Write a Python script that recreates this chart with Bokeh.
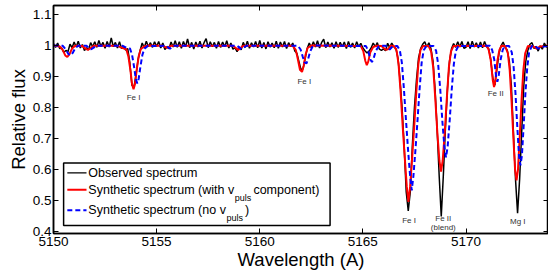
import numpy as np
from bokeh.plotting import figure
from bokeh.models import Range1d, LinearAxis, FixedTicker, CustomJSTickFormatter
from bokeh.core.properties import value
from bokeh.embed import file_html
from bokeh.resources import INLINE

# ---------------- data ----------------
# Observed spectrum: flux on a 0.1 A grid starting at 5150.0 A
obs_flux = [
    1.006, 0.994, 1.008, 0.990, 0.992, 0.978, 0.984, 0.980, 1.004, 0.993,   # 5150
    1.011, 0.995, 1.014, 0.992, 1.003, 0.984, 0.993, 0.986, 1.009, 0.996,   # 5151
    1.012, 0.994, 1.016, 0.997, 1.010, 0.991, 1.013, 0.995, 1.024, 0.996,   # 5152
    1.010, 0.992, 1.012, 0.990, 0.998, 0.985, 0.990, 0.945, 0.872, 0.866,   # 5153
    0.905, 0.955, 0.984, 1.008, 0.993, 1.014, 0.996, 1.009, 0.994, 1.012,   # 5154
    0.997, 1.013, 0.992, 1.008, 0.987, 0.996, 0.990, 1.011, 0.995, 1.015,   # 5155
    0.994, 1.012, 0.991, 1.013, 0.996, 1.021, 0.993, 1.010, 0.989, 1.011,   # 5156
    0.995, 1.014, 0.992, 1.009, 1.022, 0.993, 1.012, 0.996, 1.010, 0.991,   # 5157
    1.013, 0.994, 1.011, 0.996, 1.015, 0.992, 1.008, 0.988, 0.993, 0.980,   # 5158
    0.995, 0.986, 1.010, 0.994, 1.014, 0.991, 1.009, 0.995, 1.013, 0.993,   # 5159
    1.016, 0.992, 1.010, 0.989, 1.012, 0.995, 1.008, 0.993, 1.014, 0.991,   # 5160
    1.011, 0.995, 1.013, 0.990, 1.009, 0.996, 1.008, 0.982, 0.975, 0.948,   # 5161
    0.922, 0.925, 0.958, 0.990, 1.008, 0.993, 1.012, 0.995, 1.015, 0.992,   # 5162
    1.010, 1.020, 0.993, 1.011, 0.995, 1.009, 0.991, 1.012, 0.994, 1.010,   # 5163
    0.996, 1.011, 0.990, 1.013, 0.994, 1.008, 0.992, 1.012, 0.996, 1.007,   # 5164
    0.992, 0.983, 0.976, 0.982, 0.992, 1.008, 0.996, 1.009, 0.988, 0.984,   # 5165
    0.989, 0.983, 1.007, 0.993, 1.008, 0.996, 0.990, 0.960, 0.890, 0.800,   # 5166
    0.680, 0.530, 0.468, 0.530, 0.680, 0.800, 0.890, 0.960, 0.990, 1.004,   # 5167
    1.012, 0.995, 1.009, 0.990, 0.950, 0.860, 0.730, 0.580, 0.450, 0.580,   # 5168
    0.730, 0.860, 0.950, 0.990, 1.006, 0.994, 1.012, 0.995, 1.013, 0.991,   # 5169
    0.994, 1.012, 0.990, 1.014, 0.995, 1.009, 0.992, 1.011, 0.993, 1.013,   # 5170
    0.996, 0.990, 0.955, 0.895, 0.872, 0.925, 0.975, 0.999, 1.011, 0.994,   # 5171
    0.985, 0.950, 0.870, 0.720, 0.570, 0.460, 0.570, 0.720, 0.870, 0.950,   # 5172
    0.985, 1.004, 1.009, 0.990, 0.997, 0.982, 0.999, 0.988, 1.008, 0.995,   # 5173
    1.000,
]
obs_wave = [round(5150.0 + 0.1 * i, 1) for i in range(len(obs_flux))]

# Synthetic spectrum with v_puls component (red)
puls_wave = [
    5150.0, 5150.3, 5150.45, 5150.57, 5150.67, 5150.77, 5150.9, 5151.05,
    5151.4, 5151.55, 5151.67, 5151.8, 5151.95,
    5153.1, 5153.3, 5153.42, 5153.53, 5153.63, 5153.73, 5153.81, 5153.88, 5153.95, 5154.03, 5154.13, 5154.23, 5154.38, 5154.6,
    5155.3, 5155.5, 5155.7,
    5158.7, 5158.95, 5159.2,
    5161.6, 5161.75, 5161.85, 5161.95, 5162.05, 5162.13, 5162.22, 5162.32, 5162.5,
    5164.9, 5165.02, 5165.12, 5165.19, 5165.26, 5165.36, 5165.5, 5165.65,
    5165.9, 5166.1, 5166.22, 5166.35,
    5166.51, 5166.63, 5166.73, 5166.83, 5166.93, 5167.03, 5167.13, 5167.21, 5167.29, 5167.39, 5167.49, 5167.59, 5167.69, 5167.79, 5167.91,
    5168.19, 5168.31, 5168.41, 5168.51, 5168.61, 5168.71, 5168.79, 5168.87, 5168.97, 5169.07, 5169.17, 5169.27, 5169.39,
    5171.0, 5171.1, 5171.2, 5171.3, 5171.36, 5171.42, 5171.52, 5171.62, 5171.72,
    5171.9, 5172.03, 5172.12, 5172.21, 5172.3, 5172.38, 5172.45, 5172.52, 5172.6, 5172.69, 5172.78, 5172.87, 5173.0,
    5173.25, 5173.42, 5173.6, 5174.0,
]
puls_flux = [
    1.0, 0.997, 0.985, 0.968, 0.963, 0.972, 0.99, 0.999,
    0.998, 0.99, 0.986, 0.992, 0.999,
    0.999, 0.993, 0.99, 0.988, 0.965, 0.92, 0.875, 0.859, 0.875, 0.92, 0.965, 0.988, 0.997, 1.0,
    0.999, 0.992, 0.999,
    0.999, 0.986, 0.999,
    0.999, 0.985, 0.955, 0.922, 0.915, 0.935, 0.97, 0.992, 1.0,
    0.998, 0.982, 0.95, 0.937, 0.948, 0.978, 0.995, 0.999,
    0.998, 0.986, 0.988, 0.999,
    0.998, 0.985, 0.94, 0.85, 0.74, 0.64, 0.545, 0.497, 0.545, 0.64, 0.74, 0.85, 0.94, 0.985, 0.998,
    0.998, 0.98, 0.93, 0.83, 0.72, 0.63, 0.594, 0.63, 0.72, 0.83, 0.93, 0.98, 0.998,
    0.999, 0.986, 0.952, 0.888, 0.866, 0.885, 0.95, 0.986, 0.999,
    0.998, 0.975, 0.92, 0.82, 0.70, 0.60, 0.566, 0.60, 0.70, 0.82, 0.92, 0.975, 0.998,
    0.997, 0.99, 0.997, 1.0,
]

# Synthetic spectrum without v_puls (blue dashed)
nopuls_wave = [
    5150.0, 5150.45, 5150.62, 5150.73, 5150.83, 5150.93, 5151.06, 5151.2,
    5151.6, 5151.75, 5151.83, 5151.95, 5152.1,
    5153.35, 5153.55, 5153.71, 5153.81, 5153.91, 5153.99, 5154.06, 5154.13, 5154.21, 5154.31, 5154.41, 5154.56,
    5155.45, 5155.65, 5155.85,
    5158.9, 5159.12, 5159.35,
    5161.85, 5161.98, 5162.08, 5162.17, 5162.26, 5162.34, 5162.44, 5162.55, 5162.7,
    5165.15, 5165.26, 5165.36, 5165.44, 5165.52, 5165.62, 5165.75, 5165.85,
    5166.1, 5166.3, 5166.45,
    5166.67, 5166.79, 5166.89, 5166.99, 5167.09, 5167.19, 5167.29, 5167.37, 5167.45, 5167.55, 5167.65, 5167.75, 5167.85, 5167.95, 5168.07,
    5168.43, 5168.55, 5168.65, 5168.75, 5168.85, 5168.95, 5169.03, 5169.11, 5169.21, 5169.31, 5169.41, 5169.51, 5169.63,
    5171.17, 5171.27, 5171.37, 5171.46, 5171.52, 5171.58, 5171.68, 5171.78, 5171.88,
    5172.09, 5172.22, 5172.31, 5172.4, 5172.49, 5172.57, 5172.64, 5172.71, 5172.79, 5172.88, 5172.97, 5173.06, 5173.19,
    5173.35, 5173.5, 5173.7, 5174.0,
]
nopuls_flux = [
    1.0, 0.999, 0.985, 0.972, 0.968, 0.976, 0.992, 0.999,
    0.999, 0.99, 0.988, 0.993, 0.999,
    0.999, 0.992, 0.99, 0.97, 0.93, 0.893, 0.878, 0.893, 0.93, 0.97, 0.99, 0.998,
    0.999, 0.99, 0.999,
    0.999, 0.988, 0.999,
    0.999, 0.987, 0.965, 0.946, 0.942, 0.955, 0.98, 0.995, 1.0,
    0.998, 0.983, 0.955, 0.947, 0.958, 0.982, 0.996, 0.999,
    0.999, 0.987, 0.998,
    0.998, 0.985, 0.945, 0.86, 0.76, 0.665, 0.58, 0.534, 0.58, 0.665, 0.76, 0.86, 0.945, 0.985, 0.998,
    0.998, 0.983, 0.94, 0.86, 0.76, 0.675, 0.64, 0.675, 0.76, 0.86, 0.94, 0.983, 0.998,
    0.999, 0.985, 0.955, 0.90, 0.883, 0.90, 0.955, 0.986, 0.999,
    0.998, 0.978, 0.93, 0.845, 0.735, 0.645, 0.614, 0.645, 0.735, 0.845, 0.93, 0.978, 0.998,
    0.998, 0.99, 0.996, 1.0,
]

x_ticks = [5150, 5155, 5160, 5165, 5170]
y_ticks = [0.4, 0.5, 0.6, 0.7, 0.8, 0.9, 1.0, 1.1]

line_names = ["Fe I", "Fe I", "Fe I", "Fe II", "(blend)", "Fe II", "Mg I"]
line_name_x = [5153.88, 5162.16, 5167.24, 5168.90, 5168.90, 5171.44, 5172.51]
line_name_y = [0.832, 0.884, 0.438, 0.443, 0.414, 0.845, 0.435]

legend_rows = [
    [("Observed spectrum", False)],
    [("Synthetic spectrum (with v", False), ("puls", True), (" component)", False)],
    [("Synthetic spectrum (no v", False), ("puls", True), (")", False)],
]

# ---------------- figure ----------------
FONT = "Liberation Sans"
X0, X1 = 5150.0, 5174.0
Y0, Y1 = 0.395, 1.1287
W, H = 548, 272
BL, BR, BT, BB = 53, 0, 5, 37

p = figure(width=W, height=H, output_backend="svg", toolbar_location=None,
           x_range=Range1d(X0, X1), y_range=Range1d(Y0, Y1),
           min_border_left=BL, min_border_right=BR, min_border_top=BT, min_border_bottom=BB,
           background_fill_color="white", border_fill_color="white")
p.xgrid.visible = False
p.ygrid.visible = False
p.outline_line_color = "black"
p.outline_line_width = 1.5

tick_fmt = CustomJSTickFormatter(code="return Number(tick.toFixed(2)).toString();")

def style_axis(ax, ticks, show_labels):
    ax.ticker = FixedTicker(ticks=ticks)
    ax.formatter = tick_fmt
    ax.axis_line_color = "black"
    ax.axis_line_width = 1.5
    ax.major_tick_line_color = "black"
    ax.major_tick_line_width = 1
    ax.major_tick_in = 5
    ax.major_tick_out = 0
    ax.minor_tick_line_color = None
    ax.major_label_text_font = FONT
    if show_labels:
        ax.major_label_text_color = "black"
        ax.major_label_text_font_size = "13.5px"
        ax.major_label_standoff = 2
    else:
        ax.major_label_text_color = None
        ax.major_label_text_font_size = "0px"
        ax.major_label_standoff = 0

style_axis(p.xaxis[0], x_ticks, True)
style_axis(p.yaxis[0], y_ticks, True)
for ax in (p.xaxis[0], p.yaxis[0]):
    ax.axis_label_text_font = FONT
    ax.axis_label_text_font_size = "18.5px"
    ax.axis_label_text_font_style = "normal"
    ax.axis_label_text_color = "black"
p.xaxis[0].axis_label = "Wavelength (A)"
p.yaxis[0].axis_label = "Relative flux"
p.xaxis[0].axis_label_standoff = 0
p.xaxis[0].major_label_standoff = 3
p.yaxis[0].axis_label_standoff = 1

top_ax = LinearAxis()
style_axis(top_ax, x_ticks, False)
p.add_layout(top_ax, "above")
right_ax = LinearAxis()
style_axis(right_ax, y_ticks, False)
p.add_layout(right_ax, "right")

# spectra
p.line(obs_wave, obs_flux, line_color="black", line_width=1.5)
p.line(puls_wave, puls_flux, line_color="#ff0000", line_width=2)
p.line(nopuls_wave, nopuls_flux, line_color="#0000ff", line_width=2, line_dash="5 3")

# line identifications
p.text(x=line_name_x, y=line_name_y, text=line_names, text_font=value(FONT),
       text_font_size="8px", text_color="#333333", text_align="center", text_baseline="middle")

# ---------------- legend (drawn manually for subscripts) ----------------
frame_w = W - BL - 2
frame_h = H - BT - 39
px_x = frame_w / (X1 - X0)
px_y = frame_h / (Y1 - Y0)

ARIAL_W = {" ": 278, "(": 333, ")": 333, "S": 667, "O": 778, "a": 556, "b": 556, "c": 500,
           "d": 556, "e": 556, "h": 556, "i": 222, "l": 222, "m": 833, "n": 556, "o": 556,
           "p": 556, "r": 333, "s": 500, "t": 278, "u": 556, "v": 500, "w": 722, "y": 500}

def text_w(s, size):
    return sum(ARIAL_W.get(ch, 556) for ch in s) * size / 1000.0

leg_left, leg_right = 5150.49, 5163.41
leg_bottom, leg_top = 0.421, 0.622
p.quad(left=[leg_left], right=[leg_right], bottom=[leg_bottom], top=[leg_top],
       fill_color="white", line_color="black", line_width=1.5)

row_y = [0.590, 0.536, 0.470]
row_styles = [dict(line_color="black", line_width=1.4, line_dash="solid"),
              dict(line_color="#ff0000", line_width=2, line_dash="solid"),
              dict(line_color="#0000ff", line_width=2, line_dash="5 3")]
sample_x0, sample_x1 = 5150.67, 5151.60
text_x0 = 5151.69
MAIN_FS, SUB_FS = 12.5, 9.0
sub_dy = 8.0 / px_y
sub_gap = 2.0  # extra px after a subscript

for ry, st, pieces in zip(row_y, row_styles, legend_rows):
    p.segment(x0=[sample_x0], y0=[ry], x1=[sample_x1], y1=[ry], **st)
    cx = text_x0
    for txt, is_sub in pieces:
        fs = SUB_FS if is_sub else MAIN_FS
        yy = ry - sub_dy if is_sub else ry
        p.text(x=[cx], y=[yy], text=[txt], text_font=value(FONT),
               text_font_size=f"{fs}px", text_color="black",
               text_align="left", text_baseline="middle")
        cx += (text_w(txt, fs) + (sub_gap if is_sub else 0.0)) / px_x

open("out.html", "w").write(file_html(p, INLINE))
